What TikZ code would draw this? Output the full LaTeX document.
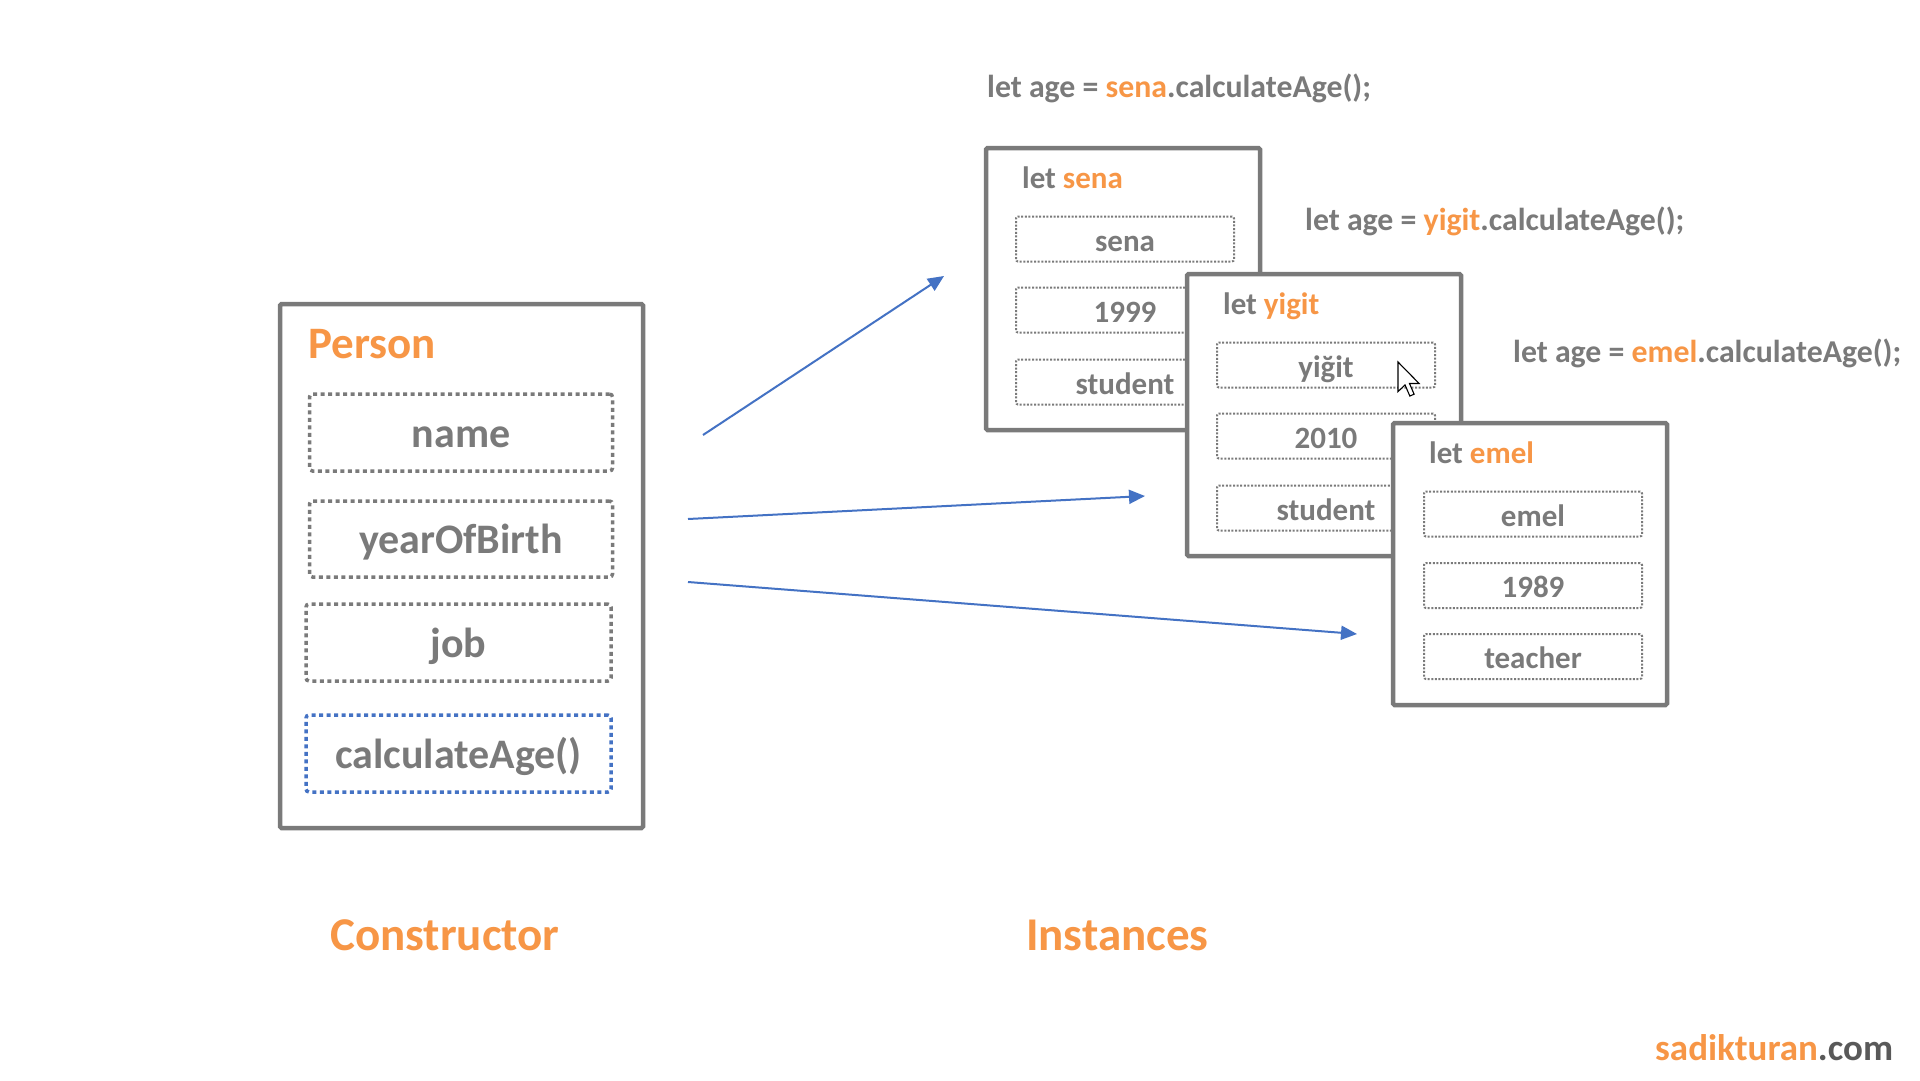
\documentclass[tikz,border=0pt]{standalone}
\usepackage{fontspec}
\setmainfont{Carlito}
\usetikzlibrary{arrows.meta}
\definecolor{txtgray}{HTML}{7A7A7A}
\definecolor{orng}{HTML}{F79646}
\definecolor{arrblue}{HTML}{4472C4}
\definecolor{dkgray}{HTML}{595959}
\newcommand\fsPerson{\fontsize{45}{54}\selectfont}
\newcommand\fsBig{\fontsize{42}{50}\selectfont}
\newcommand\fsSmall{\fontsize{31}{37}\selectfont}
\newcommand\fsCall{\fontsize{31.8}{38}\selectfont}
\newcommand\fsLabel{\fontsize{47}{56}\selectfont}
\newcommand\fsFoot{\fontsize{37}{44}\selectfont}
\begin{document}
\begin{tikzpicture}[x=1pt,y=-1pt,font=\bfseries,
  ctorbox/.style={draw=txtgray,line width=4.5pt,fill=white,rounded corners=1.5pt,
    minimum width=363pt,minimum height=524pt,inner sep=0pt},
  instbox/.style={draw=txtgray,line width=4.5pt,fill=white,rounded corners=1.5pt,
    minimum width=274pt,minimum height=282pt,inner sep=0pt},
  bigfield/.style={draw=txtgray,line width=3.5pt,dash pattern=on 4pt off 3.5pt,
    rounded corners=3pt,text=txtgray,font=\bfseries\fsBig,
    text height=31pt,text depth=2pt,inner sep=0pt},
  methodfield/.style={bigfield,draw=arrblue},
  smallfield/.style={draw=txtgray,line width=2pt,dash pattern=on 2pt off 1.6pt,
    rounded corners=2pt,text=txtgray,font=\bfseries\fsSmall,
    minimum width=218pt,minimum height=45pt,
    text height=26pt,text depth=2pt,inner sep=0pt},
  header/.style={anchor=base west,inner sep=0pt,text=txtgray,font=\bfseries\fsSmall},
  calltext/.style={anchor=base west,inner sep=0pt,text=txtgray,font=\bfseries\fsCall},
  biglabel/.style={anchor=base west,inner sep=0pt,text=orng,font=\bfseries\fsLabel},
  link/.style={draw=arrblue,line width=2pt,-{Triangle[length=16pt,width=14pt]}}
]
\useasboundingbox (0,0) rectangle (1920,1080);
\fill[white] (0,0) rectangle (1920,1080);

% ---------- Constructor ----------
\node[ctorbox] (person) at (461.5,566) {};
\node[anchor=base west,inner sep=0pt,text=orng,font=\bfseries\fsPerson] (ptitle) at (308,358) {Person};
\node[bigfield,minimum width=303pt,minimum height=77pt] (fname) at (461,432.5) {name};
\node[bigfield,minimum width=303pt,minimum height=76pt] (fyear) at (461,539) {yearOfBirth};
\node[bigfield,minimum width=305pt,minimum height=77pt] (fjob) at (458.5,642.5) {job};
\node[methodfield,minimum width=305pt,minimum height=77pt] (fcalc) at (458.5,753.5) {calculateAge()};

\node[biglabel] (ctorlabel) at (330,950) {Constructor};
\node[biglabel] (instlabel) at (1026,950) {Instances};

% ---------- Arrows ----------
\coordinate (a1s) at (703,435);
\coordinate (a1e) at (944,276);
\coordinate (a2s) at (688,519);
\coordinate (a2e) at (1145,496);
\coordinate (a3s) at (688,582);
\coordinate (a3e) at (1357,634);
\draw[link] (a1s) -- (a1e);
\draw[link] (a2s) -- (a2e);
\draw[link] (a3s) -- (a3e);

% ---------- Calls ----------
\node[calltext] (call1) at (987,97) {let age = \textcolor{orng}{sena}.calculateAge();};
\node[calltext] (call2) at (1305,230) {let age = \textcolor{orng}{yigit}.calculateAge();};
\node[calltext] (call3) at (1513,362) {let age = \textcolor{orng}{emel}.calculateAge();};

% ---------- Instance: sena ----------
\node[instbox] (sena) at (1123,289) {};
\node[header] (senah) at (1022,188) {let \textcolor{orng}{sena}};
\node[smallfield] (sena1) at (1125,239) {sena};
\node[smallfield] (sena2) at (1125,310) {1999};
\node[smallfield] (sena3) at (1125,382) {student};

% ---------- Instance: yigit ----------
\node[instbox] (yigit) at (1324,415) {};
\node[header] (yigith) at (1223,314) {let \textcolor{orng}{yigit}};
\node[smallfield] (yigit1) at (1326,365) {yiğit};
\node[smallfield] (yigit2) at (1326,436) {2010};
\node[smallfield] (yigit3) at (1326,508) {student};

% mouse cursor
\draw[black,line width=1.1pt,fill=white,line join=miter,shift={(1398,362)},x=1.85pt,y=-1.85pt]
  (0,0) -- (0,16) -- (3.8,12.4) -- (6.4,18.4) -- (8.7,17.4) -- (6.2,11.6) -- (11.4,11.6) -- cycle;

% ---------- Instance: emel ----------
\node[instbox] (emel) at (1530,564) {};
\node[header] (emelh) at (1429,463) {let \textcolor{orng}{emel}};
\node[smallfield] (emel1) at (1533,514) {emel};
\node[smallfield] (emel2) at (1533,585.5) {1989};
\node[smallfield] (emel3) at (1533,656.5) {teacher};

% ---------- Footer ----------
\node[anchor=base west,inner sep=0pt,font=\bfseries\fsFoot,text=orng] (footer) at (1655,1060)
  {sadikturan\textcolor{dkgray}{.com}};
\end{tikzpicture}
\end{document}
